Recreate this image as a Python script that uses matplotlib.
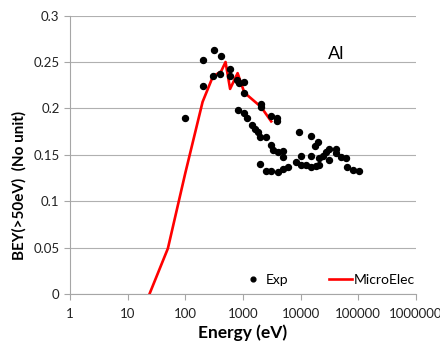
import matplotlib
matplotlib.use("Agg")
import matplotlib.pyplot as plt

plt.rcParams['font.family'] = ['Lato', 'DejaVu Sans']

# MicroElec simulation (red line)
sim_energy = [24, 50, 100, 200, 300, 420, 500, 600, 810, 1060, 2070, 3100]
sim_bey = [0.0, 0.049, 0.130, 0.207, 0.234, 0.240, 0.250, 0.221, 0.238, 0.217, 0.2015, 0.186]

# Experimental points
exp_energy = [100, 200, 200, 311, 300, 418, 405, 606, 606, 794, 850, 1032, 1032,
              813, 1030, 1180, 1446, 1650, 1810, 2015, 2510, 3090, 3390, 4030, 5030, 5030,
              2070, 2070, 3090, 3924, 3924,
              2015, 2510, 3090, 4030, 5030, 6000, 8300, 10200, 9300, 10200, 12500, 15200,
              15200, 15200, 17900, 19800, 18600, 21300, 21300, 24300, 27700, 30700, 30700,
              41500, 41500, 50700, 61800, 63000, 82800, 102000]
exp_bey = [0.190, 0.252, 0.224, 0.263, 0.235, 0.256, 0.237, 0.242, 0.2345, 0.231, 0.227, 0.228, 0.217,
           0.198, 0.195, 0.190, 0.182, 0.178, 0.1745, 0.169, 0.169, 0.161, 0.155, 0.1525, 0.1536, 0.1475,
           0.205, 0.2015, 0.192, 0.190, 0.186,
           0.140, 0.133, 0.132, 0.131, 0.1346, 0.1367, 0.1417, 0.149, 0.175, 0.1395, 0.139, 0.1367,
           0.1705, 0.149, 0.159, 0.1637, 0.138, 0.139, 0.147, 0.149, 0.153, 0.156, 0.144,
           0.156, 0.152, 0.1475, 0.147, 0.1367, 0.134, 0.1327]

y_ticks = [0, 0.05, 0.1, 0.15, 0.2, 0.25, 0.3]
y_labels = ["0", "0.05", "0.1", "0.15", "0.2", "0.25", "0.3"]
x_ticks = [1, 10, 100, 1000, 10000, 100000, 1000000]
x_labels = ["1", "10", "100", "1000", "10000", "100000", "1000000"]

fig = plt.figure(figsize=(4.4, 3.47), dpi=100)
ax = fig.add_axes([0.159, 0.153, 0.786, 0.802])

ax.plot(exp_energy, exp_bey, 'o', color='black', markersize=4.3, label='Exp', zorder=3)
ax.plot(sim_energy, sim_bey, '-', color='#ff0000', linewidth=1.9, label='MicroElec', zorder=2)

ax.set_xscale('log')
ax.set_xlim(1, 1000000)
ax.set_ylim(0, 0.3)
ax.set_xticks(x_ticks)
ax.set_xticklabels(x_labels)
ax.minorticks_off()
ax.set_yticks(y_ticks)
ax.set_yticklabels(y_labels)
ax.yaxis.grid(True, color='#b0b0b0', linewidth=0.8)
ax.set_axisbelow(True)

for s in ['top', 'right']:
    ax.spines[s].set_visible(False)
for s in ['left', 'bottom']:
    ax.spines[s].set_color('#a6a6a6')
ax.tick_params(axis='both', colors='#a6a6a6', labelcolor='#222222', labelsize=9.5, length=4, width=0.8)
ax.tick_params(axis='x', pad=6)

ax.set_xlabel('Energy (eV)', fontsize=12.5, fontweight='bold', labelpad=3)
ax.set_ylabel('BEY(>50eV)  (No unit)', fontsize=11, fontweight='bold')
ax.yaxis.set_label_coords(-0.124, 0.39)

ax.text(0.745, 0.862, 'Al', transform=ax.transAxes, fontsize=13, va='center')

ax.legend(loc='center left', bbox_to_anchor=(0.474, 0.05), ncol=2, frameon=False,
          fontsize=10, handlelength=1.7, handletextpad=0.1, columnspacing=2.9,
          borderpad=0, markerscale=0.8)

fig.savefig('out.png', dpi=100)
